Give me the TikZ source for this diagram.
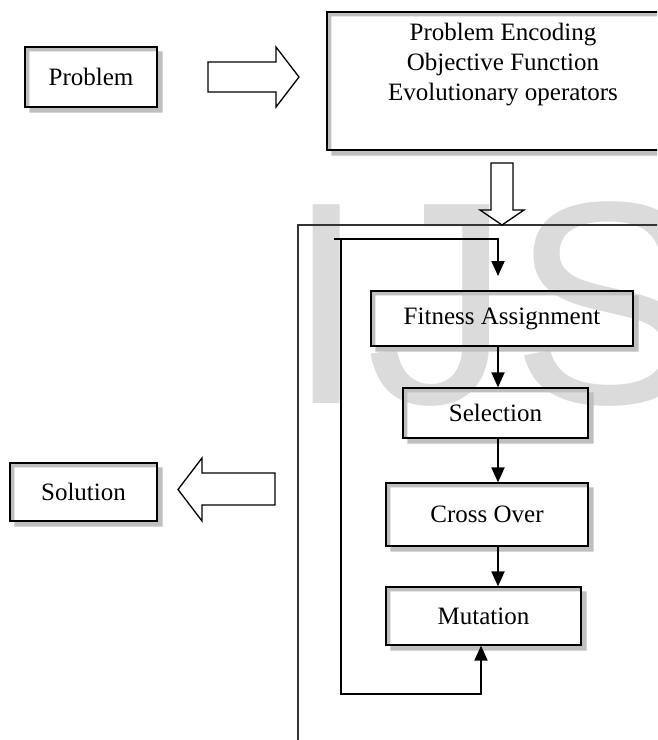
\documentclass[tikz,border=0pt]{standalone}
\usepackage{fontspec}
\setmainfont{Liberation Serif}
\newfontfamily\wmfont{Liberation Sans}
\usetikzlibrary{arrows.meta,backgrounds,calc}
\begin{document}
\begin{tikzpicture}[x=1pt,y=-1pt,
  box/.style={draw=black,line width=1.3pt,inner sep=0pt,font=\fontsize{25}{30}\selectfont,align=center},
  txt/.style={inner sep=0pt,font=\fontsize{25}{30}\selectfont,align=center},
  flow/.style={line width=2pt,-{Triangle[length=15pt,width=13pt]}},
  hollow/.style={draw=black,line width=1.3pt,line join=miter},
  shadowc/.style={fill=black!25,even odd rule},
  frame/.style={draw=black!80,line width=1.1pt},
  wm/.style={anchor=base west,inner sep=0pt,text=black!14,font=\wmfont\fontsize{289}{289}\selectfont}]
\useasboundingbox (0,0) rectangle (657,740);
\clip (0,0) rectangle (657,740);

% boxes
\node[box,minimum width=132pt,minimum height=60pt] (prob) at (91,77) {Problem};
\node[box,minimum width=373pt,minimum height=138pt] (enc) at (513.5,81) {};
\node[txt] (enctext) at (503,65) {Problem Encoding\\Objective Function\\Evolutionary operators};
\node[box,minimum width=147pt,minimum height=58pt] (sol) at (83.5,492) {Solution};
\node[box,minimum width=262pt,minimum height=55pt] (fa) at (502,318.5) {Fitness Assignment};
\node[box,minimum width=185pt,minimum height=50pt] (sel) at (495.5,413) {Selection};
\node[box,minimum width=202pt,minimum height=63pt] (co) at (487,514.5) {Cross Over};
\node[box,minimum width=195pt,minimum height=58pt] (mut) at (483.5,616) {Mutation};

% outer frame (runs off the page to the right and bottom)
\draw[frame] (298,225) rectangle (720,800);

% hollow block arrows
\draw[hollow] (208,62) -- (276,62) -- (276,47) -- (299,77) -- (276,107) -- (276,92) -- (208,92) -- cycle;
\draw[hollow] (491,163) -- (513,163) -- (513,210) -- (524,210) -- (502,225) -- (480,210) -- (491,210) -- cycle;
\draw[hollow] (275,473) -- (202,473) -- (202,458) -- (178,489.5) -- (202,521) -- (202,505) -- (275,505) -- cycle;

% flow arrows
\coordinate (axis) at (498,0);
\coordinate (lt) at (334,239);
\coordinate (faIn) at (498,276);
\coordinate (lv) at (341,239);
\coordinate (lb) at (481,694);
\draw[flow] (lt) -- (axis |- lt) -- (faIn);
\draw[flow] (fa.south -| axis) -- (sel.north -| axis);
\draw[flow] (sel.south -| axis) -- (co.north -| axis);
\draw[flow] (co.south -| axis) -- (mut.north -| axis);
\draw[flow] (lv) |- (lb) -- (mut.south -| lb);

\begin{pgfonlayer}{background}
\clip (0,0) rectangle (657,740);
\fill[white] (0,0) rectangle (657,740);
\node[wm] (mark) at (286,403) {IJS};
\foreach \n in {prob,enc,sol,fa,sel,co,mut}
  \fill[shadowc] ([shift={(5,5)}]\n.north west) rectangle ([shift={(5,5)}]\n.south east)
                 (\n.north west) rectangle (\n.south east);
\end{pgfonlayer}
\end{tikzpicture}
\end{document}
